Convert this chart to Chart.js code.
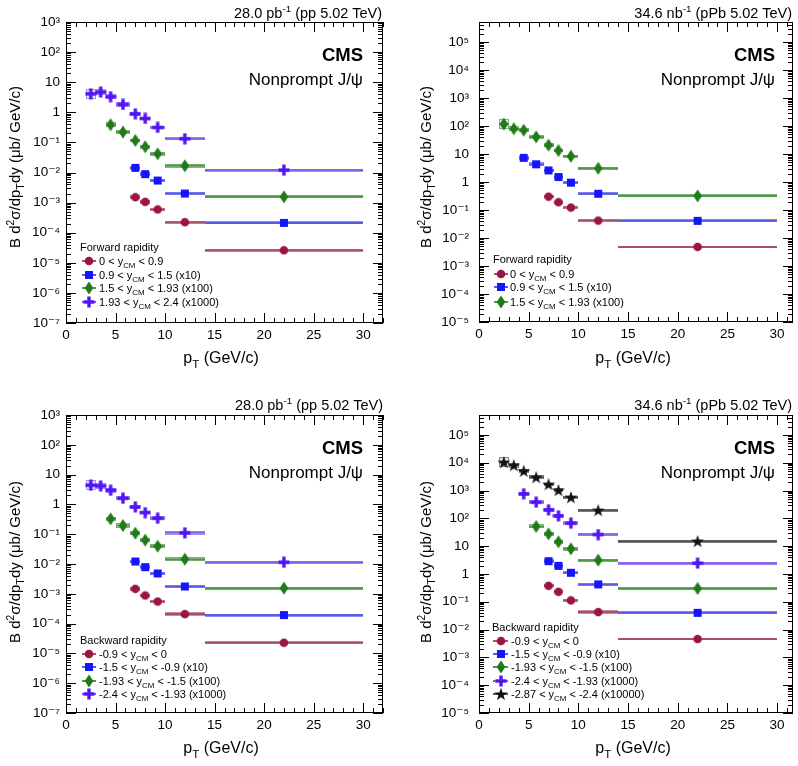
<!DOCTYPE html>
<html>
<head>
<meta charset="utf-8">
<script src="https://cdn.jsdelivr.net/npm/chart.js@4.4.1/dist/chart.umd.min.js"></script>
<style>
  html,body{margin:0;padding:0;background:#fff;}
  body{width:798px;height:766px;overflow:hidden;position:relative;font-family:"Liberation Sans",Arial,"DejaVu Sans",sans-serif;color:#000;}
  .panel{position:absolute;}
  .panel canvas{position:absolute;left:0;top:0;}
  .t{position:absolute;white-space:nowrap;line-height:1;z-index:2;}
  .t sup{font-size:0.68em;vertical-align:0.55em;line-height:0;}
  .t sub{font-size:0.72em;vertical-align:-0.45em;line-height:0;}
  .lumi{font-size:14.5px;transform:translateY(-50%);}
  .cms{font-size:18.5px;font-weight:bold;transform:translateY(-50%);}
  .np{font-size:17px;transform:translateY(-50%);}
  .leg{font-size:11px;transform:translateY(-50%);}
  .xt{font-size:16px;transform:translate(-50%,-50%);}
  .yt{font-size:15px;transform:translate(-50%,-50%) rotate(-90deg);}
</style>
</head>
<body>
<script>
// ---------------- DATA ----------------
const ptBinLow  = [2, 3, 4, 5, 6.5, 7.5, 8.5, 10, 14];
const ptBinHigh = [3, 4, 5, 6.5, 7.5, 8.5, 10, 14, 30];
const ptCenter  = [2.5, 3.5, 4.5, 5.75, 7, 8, 9.25, 12, 22];
// systematic box half-height (multiplicative), per pT bin
const systFactor = [1.5, 1.25, 1.2, 1.18, 1.15, 1.15, 1.15, 1.14, 1.12];

// pp, forward rapidity
const ppFwd_0_09    = [null, null, null, null, 1.51e-3, 1.06e-3, 5.9e-4, 2.23e-4, 2.61e-5];
const ppFwd_09_15   = [null, null, null, null, 0.0143, 0.0088, 0.00542, 0.0020, 2.12e-4];
const ppFwd_15_193  = [null, null, 0.385, 0.22, 0.116, 0.0714, 0.0418, 0.0167, 0.00155];
const ppFwd_193_24  = [4.1, 4.7, 3.3, 1.83, 0.89, 0.625, 0.314, 0.132, 0.012];

// pPb, forward rapidity
const pPbFwd_0_09   = [null, null, null, null, 0.30, 0.19, 0.123, 0.042, 0.0048];
const pPbFwd_09_15  = [null, null, 7.3, 4.3, 2.6, 1.51, 0.95, 0.38, 0.041];
const pPbFwd_15_193 = [117, 80, 71, 41, 20.7, 13.3, 8.3, 3.1, 0.32];

// pp, backward rapidity
const ppBwd_m09_0    = [null, null, null, null, 1.47e-3, 8.8e-4, 5.5e-4, 2.08e-4, 2.28e-5];
const ppBwd_m15_m09  = [null, null, null, null, 0.0121, 0.00783, 0.00481, 0.00176, 1.93e-4];
const ppBwd_m193_m15 = [null, null, 0.327, 0.195, 0.108, 0.063, 0.0396, 0.0145, 0.00155];
const ppBwd_m24_m193 = [4.4, 4.17, 2.99, 1.61, 0.824, 0.532, 0.344, 0.111, 0.0115];

// pPb, backward rapidity
const pPbBwd_m09_0    = [null, null, null, null, 0.376, 0.229, 0.112, 0.0426, 0.00456];
const pPbBwd_m15_m09  = [null, null, null, null, 2.89, 1.96, 1.10, 0.42, 0.040];
const pPbBwd_m193_m15 = [null, null, null, 50.9, 27.7, 14.3, 8.0, 3.14, 0.30];
const pPbBwd_m24_m193 = [null, null, 759, 381, 202, 123, 67, 26.2, 2.45];
const pPbBwd_m287_m24 = [10400, 8130, 5090, 3015, 1690, 1030, 575, 196, 15.1];

const xTickLabels = [0, 5, 10, 15, 20, 25, 30];

const labelsFwd = ['0 < y_CM < 0.9', '0.9 < y_CM < 1.5 (x10)', '1.5 < y_CM < 1.93 (x100)', '1.93 < y_CM < 2.4 (x1000)'];
const labelsBwd = ['-0.9 < y_CM < 0', '-1.5 < y_CM < -0.9 (x10)', '-1.93 < y_CM < -1.5 (x100)', '-2.4 < y_CM < -1.93 (x1000)', '-2.87 < y_CM < -2.4 (x10000)'];

// ---------------- STYLES ----------------
const FONT = '"Liberation Sans", Arial, "DejaVu Sans", sans-serif';
const styles = {
  red:    {marker:'#9b1541', line:'#a9506f', boxStroke:'#c98aa0', boxFill:'rgba(155,21,65,0.10)', shape:'circle'},
  blue:   {marker:'#1414ff', line:'#5a5ae6', boxStroke:'#8e8ef0', boxFill:'rgba(20,20,255,0.10)', shape:'square'},
  green:  {marker:'#1f7a17', line:'#4f9845', boxStroke:'#7fb47a', boxFill:'rgba(31,122,23,0.10)', shape:'diamond'},
  violet: {marker:'#5214f2', line:'#8561e6', boxStroke:'#a68ef0', boxFill:'rgba(82,20,242,0.10)', shape:'cross'},
  black:  {marker:'#111111', line:'#555555', boxStroke:'#8a8a8a', boxFill:'rgba(0,0,0,0.10)', shape:'star'}
};

function mk(w, h, draw){ const c=document.createElement('canvas'); c.width=w; c.height=h; draw(c.getContext('2d'), w, h); return c; }
const shapeMakers = {
  circle: col => mk(10,10,g=>{ g.fillStyle=col; g.beginPath(); g.arc(5,5,4.3,0,Math.PI*2); g.fill(); }),
  square: col => mk(10,10,g=>{ g.fillStyle=col; g.fillRect(1,1,8,8); }),
  diamond: col => mk(10,14,g=>{ g.fillStyle=col; g.beginPath(); g.moveTo(5,0.5); g.lineTo(9.3,7); g.lineTo(5,13.5); g.lineTo(0.7,7); g.closePath(); g.fill(); }),
  cross: col => mk(12,12,g=>{ g.fillStyle=col; g.fillRect(0.5,4.3,11,3.4); g.fillRect(4.3,0.5,3.4,11); }),
  star: col => mk(14,14,g=>{ g.fillStyle=col; g.beginPath();
    for(let i=0;i<10;i++){ const r = i%2===0 ? 6.8 : 2.7; const a = -Math.PI/2 + i*Math.PI/5;
      const px = 7 + r*Math.cos(a), py = 7.6 + r*Math.sin(a); if(i===0) g.moveTo(px,py); else g.lineTo(px,py); }
    g.closePath(); g.fill(); })
};
const markerImg = {};
Object.keys(styles).forEach(k => { markerImg[k] = shapeMakers[styles[k].shape](styles[k].marker); });

const SUP = {'-':'\u207B','0':'\u2070','1':'\u00B9','2':'\u00B2','3':'\u00B3','4':'\u2074','5':'\u2075','6':'\u2076','7':'\u2077','8':'\u2078','9':'\u2079'};
function expLabel(v){
  const e = Math.round(Math.log10(v));
  if (e === 0) return '1';
  if (e === 1) return '10';
  return '10' + String(e).split('').map(c => SUP[c]).join('');
}
function legHtml(s){ return s.replace(/</g,'&lt;').replace('_CM','<sub>CM</sub>'); }

// ---------------- PANELS (layout) ----------------
const panels = [
  { box:[0,0,399,380], area:{l:66,r:383,t:22,b:323}, xMax:32, yMin:1e-7, yMax:1e3, tickPad:6,
    series:[['red',ppFwd_0_09],['blue',ppFwd_09_15],['green',ppFwd_15_193],['violet',ppFwd_193_24]],
    labels:labelsFwd, legendTitle:'Forward rapidity', lumi:'28.0 pb<sup>-1</sup> (pp 5.02 TeV)',
    txt:{lumiR:17,lumiY:13,cmsR:36,cmsY:55,npY:79,ytX:14,ytY:167,xtX:221,xtY:358},
    leg:{titleX:80,titleY:247,ys:[261,275,288,302],x1:82,x2:96,xm:89,textX:99} },
  { box:[399,0,399,380], area:{l:80,r:394,t:22,b:322}, xMax:31.6, yMin:1e-5, yMax:5.2e5, tickPad:10,
    series:[['red',pPbFwd_0_09],['blue',pPbFwd_09_15],['green',pPbFwd_15_193]],
    labels:labelsFwd.slice(0,3), legendTitle:'Forward rapidity', lumi:'34.6 nb<sup>-1</sup> (pPb 5.02 TeV)',
    txt:{lumiR:6,lumiY:13,cmsR:23,cmsY:55,npY:79,ytX:26,ytY:167,xtX:234,xtY:358},
    leg:{titleX:94,titleY:259,ys:[274,287,302],x1:95,x2:109,xm:102,textX:111} },
  { box:[0,380,399,386], area:{l:66,r:383,t:35,b:333}, xMax:32, yMin:1e-7, yMax:1e3, tickPad:6,
    series:[['red',ppBwd_m09_0],['blue',ppBwd_m15_m09],['green',ppBwd_m193_m15],['violet',ppBwd_m24_m193]],
    labels:labelsBwd.slice(0,4), legendTitle:'Backward rapidity', lumi:'28.0 pb<sup>-1</sup> (pp 5.02 TeV)',
    txt:{lumiR:16,lumiY:25,cmsR:36,cmsY:68,npY:92,ytX:14,ytY:182,xtX:221,xtY:368},
    leg:{titleX:80,titleY:260,ys:[274,287,301,314],x1:82,x2:96,xm:89,textX:99} },
  { box:[399,380,399,386], area:{l:80,r:394,t:35,b:333}, xMax:31.6, yMin:1e-5, yMax:5.2e5, tickPad:10,
    series:[['red',pPbBwd_m09_0],['blue',pPbBwd_m15_m09],['green',pPbBwd_m193_m15],['violet',pPbBwd_m24_m193],['black',pPbBwd_m287_m24]],
    labels:labelsBwd, legendTitle:'Backward rapidity', lumi:'34.6 nb<sup>-1</sup> (pPb 5.02 TeV)',
    txt:{lumiR:6,lumiY:25,cmsR:23,cmsY:68,npY:92,ytX:26,ytY:182,xtX:234,xtY:368},
    leg:{titleX:93,titleY:247,ys:[261,274,287,301,314],x1:94,x2:109,xm:102,textX:112} }
];

// ---------------- PLUGINS ----------------
const binBoxes = {
  id:'binBoxes',
  beforeDatasetsDraw(chart){
    const {ctx, scales:{x,y}, chartArea:a} = chart;
    ctx.save();
    ctx.beginPath(); ctx.rect(a.left,a.top,a.right-a.left,a.bottom-a.top); ctx.clip();
    chart.data.datasets.forEach(ds => {
      const st = styles[ds.styleKey];
      ds.data.forEach(p => {
        const x1 = Math.round(x.getPixelForValue(p.lo)), x2 = Math.round(x.getPixelForValue(p.hi));
        const yc = y.getPixelForValue(p.y);
        const yt = Math.round(y.getPixelForValue(p.y*p.sf)), yb = Math.round(y.getPixelForValue(p.y/p.sf));
        ctx.fillStyle = st.boxFill; ctx.fillRect(x1, yt, x2-x1, yb-yt);
        ctx.strokeStyle = st.boxStroke; ctx.lineWidth = 1;
        ctx.strokeRect(x1+0.5, yt+0.5, x2-x1-1, Math.max(1,yb-yt-1));
        ctx.strokeStyle = st.line; ctx.lineWidth = 2;
        ctx.beginPath(); ctx.moveTo(x1, yc); ctx.lineTo(x2, yc); ctx.stroke();
      });
    });
    ctx.restore();
  }
};

const frameTicks = {
  id:'frameTicks',
  afterDraw(chart){
    const {ctx, chartArea:a, scales:{x,y}} = chart;
    ctx.save();
    ctx.strokeStyle = '#000'; ctx.lineWidth = 1;
    ctx.strokeRect(a.left+0.5, a.top+0.5, a.right-a.left-1, a.bottom-a.top-1);
    ctx.beginPath();
    for (let v = 0; v <= x.max; v++){
      const px = Math.round(x.getPixelForValue(v)) + 0.5;
      const len = v % 5 === 0 ? 10 : 5;
      ctx.moveTo(px, a.bottom); ctx.lineTo(px, a.bottom-len);
      ctx.moveTo(px, a.top); ctx.lineTo(px, a.top+len);
    }
    const d0 = Math.floor(Math.log10(y.min)), d1 = Math.ceil(Math.log10(y.max));
    for (let d = d0; d <= d1; d++){
      for (let m = 1; m <= 9; m++){
        const v = m * Math.pow(10, d);
        if (v < y.min*0.999 || v > y.max*1.001) continue;
        const py = Math.round(y.getPixelForValue(v)) + 0.5;
        const len = m === 1 ? 10 : 5;
        ctx.moveTo(a.left, py); ctx.lineTo(a.left+len, py);
        ctx.moveTo(a.right, py); ctx.lineTo(a.right-len, py);
      }
    }
    ctx.stroke();
    ctx.restore();
  }
};

function legendPlugin(p){
  return {
    id:'legendMarks',
    afterDraw(chart){
      const ctx = chart.ctx; const L = p.leg;
      ctx.save();
      p.series.forEach((s, i) => {
        const st = styles[s[0]]; const yy = L.ys[i];
        ctx.strokeStyle = st.line; ctx.lineWidth = 2;
        ctx.beginPath(); ctx.moveTo(L.x1, yy); ctx.lineTo(L.x2, yy); ctx.stroke();
        const img = markerImg[s[0]];
        ctx.drawImage(img, Math.round(L.xm - img.width/2), Math.round(yy - img.height/2));
      });
      ctx.restore();
    }
  };
}

// ---------------- BUILD ----------------
function addText(parent, cls, html, css){
  const d = document.createElement('div'); d.className = 't ' + cls; d.innerHTML = html;
  Object.assign(d.style, css); parent.appendChild(d); return d;
}

panels.forEach(p => {
  const [px, py, W, H] = p.box;
  const div = document.createElement('div'); div.className = 'panel';
  Object.assign(div.style, {left:px+'px', top:py+'px', width:W+'px', height:H+'px'});
  document.body.appendChild(div);
  const cv = document.createElement('canvas'); cv.width = W; cv.height = H;
  cv.style.width = W+'px'; cv.style.height = H+'px';
  div.appendChild(cv);

  const datasets = p.series.map(([key, vals]) => ({
    styleKey: key,
    data: vals.map((v, i) => v === null ? null : {x: ptCenter[i], y: v, lo: ptBinLow[i], hi: ptBinHigh[i], sf: systFactor[i]}).filter(Boolean),
    pointStyle: markerImg[key],
    pointRadius: 5,
    showLine: false
  }));

  const decades = [];
  for (let e = Math.ceil(Math.log10(p.yMin)-1e-9); e <= Math.floor(Math.log10(p.yMax)+1e-9); e++) decades.push(Math.pow(10, e));

  new Chart(cv, {
    type: 'scatter',
    data: { datasets },
    options: {
      responsive: false, animation: false, events: [], devicePixelRatio: 1,
      layout: { autoPadding: false, padding: { top: p.area.t, right: W - p.area.r, left: 0, bottom: 0 } },
      plugins: { legend: {display:false}, tooltip: {enabled:false} },
      scales: {
        x: {
          type: 'linear', min: 0, max: p.xMax,
          grid: {display:false, drawTicks:false}, border: {display:false},
          afterBuildTicks: s => { s.ticks = xTickLabels.map(v => ({value: v})); },
          afterFit: s => { s.height = H - p.area.b; },
          ticks: { color:'#000', font:{family:FONT, size:13.5}, padding:4, maxRotation:0, autoSkip:false, callback: v => String(v) }
        },
        y: {
          type: 'logarithmic', min: p.yMin, max: p.yMax,
          grid: {display:false, drawTicks:false}, border: {display:false},
          afterBuildTicks: s => { s.ticks = decades.map(v => ({value: v, major: true})); },
          afterFit: s => { s.width = p.area.l; },
          ticks: { color:'#000', font:{family:FONT, size:13.5}, padding:p.tickPad, autoSkip:false, callback: v => expLabel(v) }
        }
      }
    },
    plugins: [binBoxes, frameTicks, legendPlugin(p)]
  });

  const T = p.txt;
  addText(div, 'lumi', p.lumi, {right: T.lumiR+'px', top: T.lumiY+'px'});
  addText(div, 'cms', 'CMS', {right: T.cmsR+'px', top: T.cmsY+'px'});
  addText(div, 'np', 'Nonprompt J/\u03C8', {right: T.cmsR+'px', top: T.npY+'px'});
  addText(div, 'xt', 'p<sub>T</sub> (GeV/c)', {left: T.xtX+'px', top: T.xtY+'px'});
  addText(div, 'yt', 'B d<sup>2</sup>\u03C3/dp<sub>T</sub>dy (\u03BCb/ GeV/c)', {left: T.ytX+'px', top: T.ytY+'px'});
  addText(div, 'leg', p.legendTitle, {left: p.leg.titleX+'px', top: p.leg.titleY+'px'});
  p.labels.forEach((lab, i) => addText(div, 'leg', legHtml(lab), {left: p.leg.textX+'px', top: p.leg.ys[i]+'px'}));
});
</script>
</body>
</html>
